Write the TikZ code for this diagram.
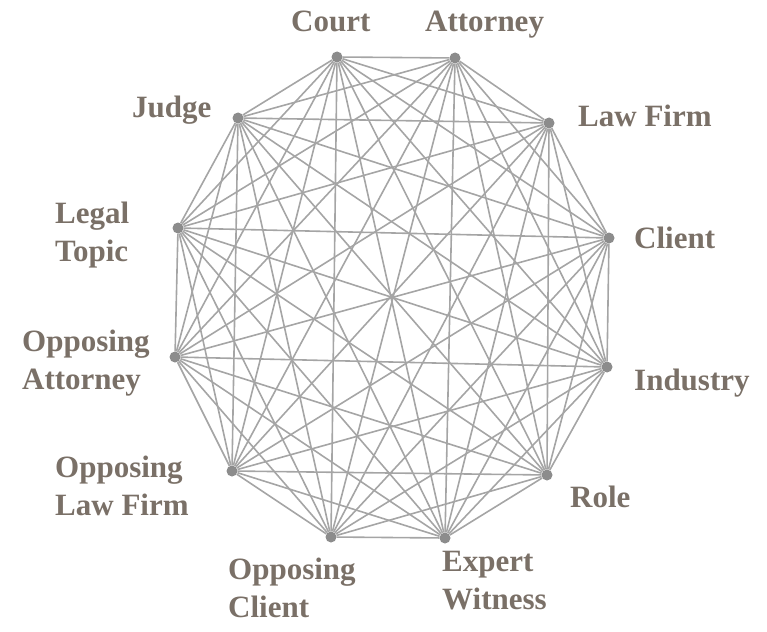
\documentclass[tikz,border=0pt]{standalone}
\usepackage{fontspec}
\setmainfont{Liberation Serif}
\definecolor{lab}{RGB}{122,112,103}
\definecolor{edgegray}{RGB}{165,165,165}
\definecolor{dotgray}{RGB}{140,140,140}
\begin{document}
\begin{tikzpicture}[x=1pt,y=-1pt,
  vert/.style={circle,fill=dotgray,inner sep=0pt,minimum size=11pt},
  lbl/.style={font=\fontsize{31}{38}\selectfont\bfseries,text=lab,inner sep=0pt,align=left,anchor=base west},
  edgeline/.style={draw=edgegray,line width=1.6pt}]
\useasboundingbox (0,0) rectangle (767,631);
\node[vert] (n1) at (337,57) {};
\node[vert] (n2) at (455,58) {};
\node[vert] (n3) at (549,123) {};
\node[vert] (n4) at (609,238) {};
\node[vert] (n5) at (607,367) {};
\node[vert] (n6) at (547,475) {};
\node[vert] (n7) at (445,538) {};
\node[vert] (n8) at (331,537) {};
\node[vert] (n9) at (232,471) {};
\node[vert] (n10) at (175,357) {};
\node[vert] (n11) at (178,228) {};
\node[vert] (n12) at (238,118) {};
\foreach \i in {1,...,12}{
  \foreach \j in {1,...,12}{
    \ifnum\j>\i \draw[edgeline] (n\i) -- (n\j); \fi
  }
}
\node[lbl] (l1) at (291,32) {Court};
\node[lbl] (l2) at (425,32) {Attorney};
\node[lbl] (l3) at (578,127) {Law Firm};
\node[lbl] (l4) at (634,248) {Client};
\node[lbl] (l5) at (634,390) {Industry};
\node[lbl] (l6) at (570,507) {Role};
\node[lbl] (l7) at (442,609) {Expert\\Witness};
\node[lbl] (l8) at (228,617) {Opposing\\Client};
\node[lbl] (l9) at (55,515) {Opposing\\Law Firm};
\node[lbl] (l10) at (22,389) {Opposing\\Attorney};
\node[lbl] (l11) at (55,261) {Legal\\Topic};
\node[lbl] (l12) at (132,118) {Judge};
\end{tikzpicture}
\end{document}
